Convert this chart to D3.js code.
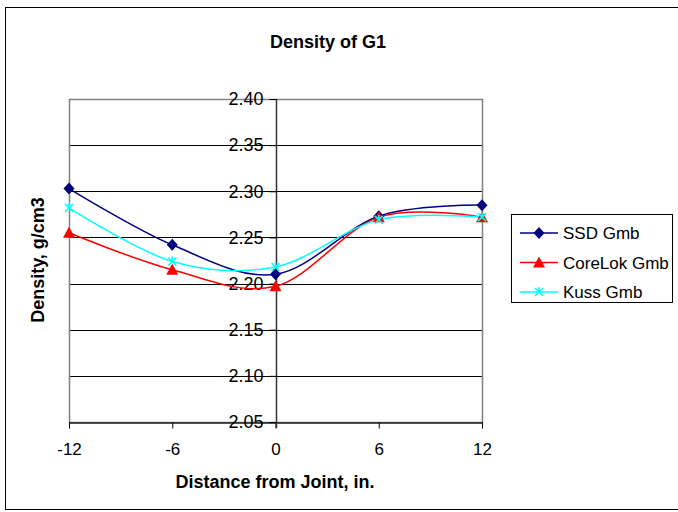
<!DOCTYPE html>
<html><head><meta charset="utf-8">
<script src="https://cdn.jsdelivr.net/npm/d3@7"></script>
<style>body{margin:0;background:#fff}svg{display:block;font-family:Arial,"Liberation Sans",sans-serif}</style>
</head><body><svg id="c" width="678" height="512"></svg>
<script>
const xValues = [-12, -6, 0, 6, 12];
const ssd = [2.303, 2.242, 2.210, 2.273, 2.285];
const corelok = [2.255, 2.215, 2.197, 2.272, 2.272];
const kuss = [2.282, 2.224, 2.218, 2.269, 2.272];
const seriesNames = ["SSD Gmb", "CoreLok Gmb", "Kuss Gmb"];
const seriesColors = ["#000080", "#ff0000", "#00ffff"];
const yTicks = [2.05, 2.10, 2.15, 2.20, 2.25, 2.30, 2.35, 2.40];
const xTicks = [-12, -6, 0, 6, 12];

const svg = d3.select("#c");
svg.append("rect").attr("x",5.5).attr("y",7.5).attr("width",680).attr("height",502)
  .attr("fill","#fff").attr("stroke","#000").attr("stroke-width",1);

const L=69, R=482, T=99, B=422;
const x = d3.scaleLinear().domain([-12,12]).range([L,R]);
const y = d3.scaleLinear().domain([2.05,2.40]).range([B,T]);

// gridlines
svg.append("g").selectAll("line").data(yTicks.slice(1)).join("line")
  .attr("x1",L).attr("x2",R).attr("y1",d=>Math.round(y(d))+0.5).attr("y2",d=>Math.round(y(d))+0.5)
  .attr("stroke","#000").attr("stroke-width",1);
// plot border (gray)
svg.append("rect").attr("x",L+0.5).attr("y",T+0.5).attr("width",R-L).attr("height",B-T)
  .attr("fill","none").attr("stroke","#808080").attr("stroke-width",1.5);

// x axis at bottom
const xAxis = svg.append("g").attr("transform",`translate(0,${B+0.5})`)
  .call(d3.axisBottom(x).tickValues(xTicks).tickSize(6).tickSizeOuter(0).tickFormat(d3.format("d")));
xAxis.attr("font-family",null).attr("font-size",null);
xAxis.select(".domain").attr("stroke","#222").attr("stroke-width",1.5);
xAxis.selectAll(".tick line").attr("stroke","#000");
xAxis.selectAll(".tick text").attr("font-size",17).attr("fill","#000").attr("y",20).attr("dy","0.71em")
  .text(d=>String(d).replace("\u2212","-"));

// y axis at x=0
const yAxis = svg.append("g").attr("transform",`translate(${Math.round(x(0))+0.5},0)`)
  .call(d3.axisLeft(y).tickValues(yTicks).tickSize(7).tickSizeOuter(0).tickFormat(d3.format(".2f")));
yAxis.attr("font-family",null).attr("font-size",null);
yAxis.select(".domain").attr("stroke","#333").attr("stroke-width",1.5)
  .attr("d",`M0,${T}V${B+6}`);
yAxis.selectAll(".tick line").attr("stroke","#000");
yAxis.selectAll(".tick text").attr("font-size",18).attr("fill","#000").attr("x",-13);

// series
const data = [ssd, corelok, kuss];
const line = d3.line().x((d,i)=>x(xValues[i])).y(d=>y(d)).curve(d3.curveCatmullRom.alpha(0));
data.forEach((vals,si)=>{
  svg.append("path").datum(vals).attr("d",line).attr("fill","none")
    .attr("stroke",seriesColors[si]).attr("stroke-width",1.5);
});
function marker(g, si, cx, cy){
  if(si===0){
    g.append("path").attr("d",`M${cx},${cy-6}L${cx+5.5},${cy}L${cx},${cy+6}L${cx-5.5},${cy}Z`).attr("fill",seriesColors[0]);
  } else if(si===1){
    g.append("path").attr("d",`M${cx},${cy-6}L${cx+6},${cy+5}L${cx-6},${cy+5}Z`).attr("fill",seriesColors[1]);
  } else {
    g.append("path").attr("d",`M${cx-4},${cy-4}L${cx+4},${cy+4}M${cx+4},${cy-4}L${cx-4},${cy+4}M${cx},${cy-5}V${cy-1}`)
      .attr("stroke",seriesColors[2]).attr("stroke-width",1.5).attr("fill","none");
  }
}
const mg = svg.append("g");
data.forEach((vals,si)=>vals.forEach((v,i)=>marker(mg,si,x(xValues[i]),y(v))));

// title & labels
svg.append("text").attr("x",328).attr("y",48).attr("text-anchor","middle")
  .attr("font-size",18).attr("font-weight","bold").text("Density of G1");
svg.append("text").attr("x",275).attr("y",488).attr("text-anchor","middle")
  .attr("font-size",18).attr("font-weight","bold").text("Distance from Joint, in.");
svg.append("text").attr("transform","translate(44,260) rotate(-90)").attr("text-anchor","middle")
  .attr("font-size",18).attr("font-weight","bold").text("Density, g/cm3");

// legend
const lg = svg.append("g");
lg.append("rect").attr("x",511.5).attr("y",214.5).attr("width",161).attr("height",88)
  .attr("fill","#fff").attr("stroke","#000").attr("stroke-width",1);
seriesNames.forEach((n,i)=>{
  const yy = 233 + i*29.5;
  lg.append("line").attr("x1",520).attr("x2",558).attr("y1",yy).attr("y2",yy)
    .attr("stroke",seriesColors[i]).attr("stroke-width",1.5);
  marker(lg,i,539,yy);
  lg.append("text").attr("x",563).attr("y",yy+6).attr("font-size",17).text(n);
});
</script></body></html>
